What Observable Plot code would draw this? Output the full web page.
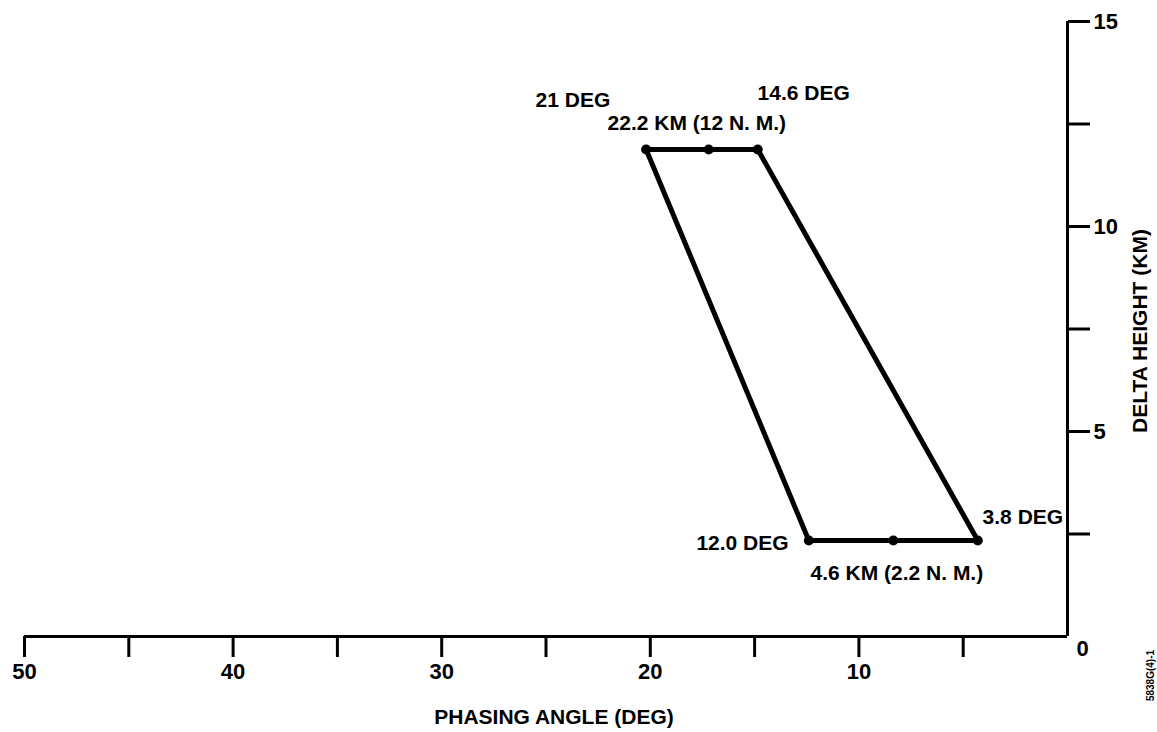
<!DOCTYPE html>
<html><head><meta charset="utf-8">
<script src="https://cdn.jsdelivr.net/npm/d3@7"></script>
<script src="https://cdn.jsdelivr.net/npm/@observablehq/plot@0.6"></script>
<style>
html,body{margin:0;padding:0;background:#fff;}
#chart svg{display:block;}
#chart g[aria-label="x-axis tick label"], #chart g[aria-label="y-axis tick label"]{font-size:22px !important;font-weight:bold;}
</style>
</head><body><div id="chart"></div>
<script>
// Parallelogram outline (closed path: TL, TM, TR, BR, BM, BL, TL)
const phaseAngle  = [20.2, 17.2, 14.85, 4.3, 8.35, 12.4, 20.2];
const deltaHeight = [11.88, 11.88, 11.88, 2.34, 2.34, 2.34, 11.88];

const xTicks = [50, 45, 40, 35, 30, 25, 20, 15, 10, 5];
const xTickLabels = [50, 40, 30, 20, 10];
const yTicks = [2.5, 5, 7.5, 10, 12.5, 15];
const yTickLabels = [5, 10, 15];

const annText   = ["21 DEG", "14.6 DEG", "22.2 KM (12 N. M.)", "12.0 DEG", "4.6 KM (2.2 N. M.)", "3.8 DEG"];
const annX      = [25.5, 14.86, 22.05, 13.37, 12.32, 4.07];
const annY      = [13.07, 13.24, 12.51, 2.27, 1.54, 2.90];
const annAnchor = ["start", "start", "start", "end", "start", "start"];

const xTitle = "PHASING ANGLE (DEG)";
const yTitle = "DELTA HEIGHT (KM)";
const figNote = "5838G(4)-1";

const outline = phaseAngle.map((x, i) => ({x, y: deltaHeight[i]}));
const points = outline.slice(0, 6);
const ann = annText.map((t, i) => ({t, x: annX[i], y: annY[i], a: annAnchor[i]}));

const FONT = "'Liberation Sans', Arial, Helvetica, sans-serif";

const chart = Plot.plot({
  width: 1157,
  height: 732,
  marginLeft: 24,
  marginRight: 90,
  marginTop: 21,
  marginBottom: 96,
  style: {fontFamily: FONT, fontWeight: "bold", fontSize: "21px", background: "#fff", color: "#000"},
  x: {domain: [50, 0]},
  y: {domain: [0, 15]},
  marks: [
    Plot.ruleY([0], {stroke: "#000", strokeWidth: 3}),
    Plot.ruleX([0], {stroke: "#000", strokeWidth: 3}),
    Plot.axisX(xTicks, {
      anchor: "bottom", tickSize: 21, tickPadding: 6, strokeWidth: 3,
      tickFormat: d => xTickLabels.includes(d) ? String(d) : "",
      fontSize: 22, fontWeight: "bold", label: null
    }),
    Plot.axisY(yTicks, {
      anchor: "right", tickSize: 22, tickPadding: 4, strokeWidth: 3,
      tickFormat: d => yTickLabels.includes(d) ? String(d) : "",
      fontSize: 22, fontWeight: "bold", label: null
    }),
    Plot.text([0], {x: d => d, y: d => d, text: d => String(d), dx: 15, dy: 12,
      fontSize: 22, fontWeight: "bold", lineAnchor: "middle"}),
    Plot.line(outline, {x: "x", y: "y", stroke: "#000", strokeWidth: 5, strokeLinejoin: "round", curve: "linear"}),
    Plot.dot(points, {x: "x", y: "y", r: 5, fill: "#000", stroke: null}),
    Plot.text(ann.filter(d => d.a === "start"), {x: "x", y: "y", text: "t", textAnchor: "start",
      lineAnchor: "middle", fontSize: 21, fontWeight: "bold", fill: "#000"}),
    Plot.text(ann.filter(d => d.a === "end"), {x: "x", y: "y", text: "t", textAnchor: "end",
      lineAnchor: "middle", fontSize: 21, fontWeight: "bold", fill: "#000"}),
    Plot.text([xTitle], {frameAnchor: "bottom", text: d => d, dx: 8, dy: 81,
      lineAnchor: "middle", textAnchor: "middle", fontSize: 21, fontWeight: "bold"}),
    Plot.text([yTitle], {frameAnchor: "right", text: d => d, dx: 73, dy: 2, rotate: -90,
      lineAnchor: "middle", textAnchor: "middle", fontSize: 21, fontWeight: "bold"}),
    Plot.text([figNote], {frameAnchor: "bottom-right", text: d => d, dx: 83, dy: 39, rotate: -90,
      lineAnchor: "middle", textAnchor: "middle", fontSize: 10, fontWeight: "bold"})
  ]
});
document.getElementById("chart").appendChild(chart);
</script>
</body></html>
